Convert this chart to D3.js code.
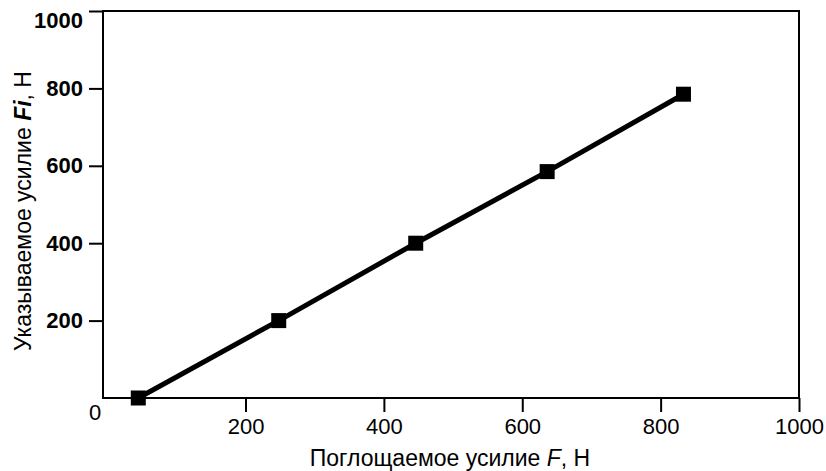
<!DOCTYPE html>
<html>
<head>
<meta charset="utf-8">
<script src="https://cdn.jsdelivr.net/npm/d3@7"></script>
<style>
  body { margin: 0; background: #fff; }
  svg text { font-family: "Liberation Sans", Arial, sans-serif; fill: #000; }
</style>
</head>
<body>
<div id="chart"></div>
<script>
const width = 826;
const height = 471;

// values
const absorbed = [45, 248, 446, 636, 833];   // F, Н
const indicated = [0, 200, 400, 585, 785];   // Fi, Н
const xTicks = [200, 400, 600, 800, 1000];
const yTicks = [200, 400, 600, 800, 1000];

const points = absorbed.map((d, i) => ({ x: d, y: indicated[i] }));

const svg = d3.select("#chart")
  .append("svg")
  .attr("width", width)
  .attr("height", height);

const x = d3.scaleLinear()
  .domain([-6, 1000])
  .range([103, 799]);

const y = d3.scaleLinear()
  .domain([0, 1000])
  .range([398, 11]);

// frame
svg.append("rect")
  .attr("x", x(-6))
  .attr("y", y(1000))
  .attr("width", x(1000) - x(-6))
  .attr("height", y(0) - y(1000))
  .attr("fill", "none")
  .attr("stroke", "#000")
  .attr("stroke-width", 2);

// x axis
const xAxis = svg.append("g")
  .attr("transform", `translate(0, ${y(0)})`)
  .call(d3.axisBottom(x).tickValues(xTicks).tickFormat(d3.format("d")).tickSize(14).tickPadding(6));
xAxis.select(".domain").remove();
xAxis.selectAll("line").attr("stroke", "#000").attr("stroke-width", 2);
xAxis.selectAll("text")
  .style("font-size", "22px")
  .attr("fill", "#000");

// y axis
const yAxis = svg.append("g")
  .attr("transform", `translate(${x(-6)}, 0)`)
  .call(d3.axisLeft(y).tickValues(yTicks).tickFormat(d3.format("d")).tickSize(14).tickPadding(6));
yAxis.select(".domain").remove();
yAxis.selectAll("line").attr("stroke", "#000").attr("stroke-width", 2);
yAxis.selectAll("text")
  .style("font-size", "22px")
  .style("font-weight", "bold")
  .attr("fill", "#000");
// top label sits just under its tick in the original
yAxis.selectAll(".tick")
  .filter(d => d === 1000)
  .select("text")
  .attr("dy", "0.77em");

// shared zero at the corner
svg.append("text")
  .attr("x", 95)
  .attr("y", 420)
  .attr("text-anchor", "middle")
  .style("font-size", "22px")
  .text("0");

// line
const line = d3.line()
  .x(d => x(d.x))
  .y(d => y(d.y));

svg.append("path")
  .datum(points)
  .attr("d", line)
  .attr("fill", "none")
  .attr("stroke", "#000")
  .attr("stroke-width", 5);

// square markers
svg.selectAll(".marker")
  .data(points)
  .enter()
  .append("rect")
  .attr("class", "marker")
  .attr("x", d => x(d.x) - 7.5)
  .attr("y", d => y(d.y) - 7.5)
  .attr("width", 15)
  .attr("height", 15)
  .attr("fill", "#000");

// axis titles
const xTitle = svg.append("text")
  .attr("x", 450)
  .attr("y", 466)
  .attr("text-anchor", "middle")
  .style("font-size", "23px");
xTitle.append("tspan").text("Поглощаемое усилие ");
xTitle.append("tspan").style("font-style", "italic").text("F");
xTitle.append("tspan").text(", Н");

const yTitle = svg.append("text")
  .attr("transform", "rotate(-90)")
  .attr("x", -211)
  .attr("y", 31)
  .attr("text-anchor", "middle")
  .style("font-size", "23px");
yTitle.append("tspan").text("Указываемое усилие ");
yTitle.append("tspan").style("font-style", "italic").style("font-weight", "bold").text("Fi");
yTitle.append("tspan").text(", Н");
</script>
</body>
</html>
